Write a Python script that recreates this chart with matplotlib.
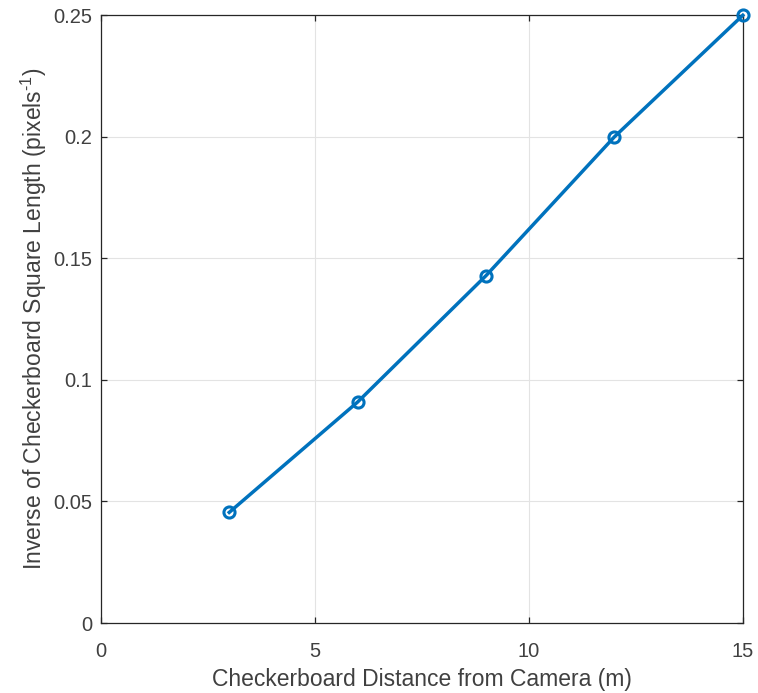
import matplotlib
matplotlib.use("Agg")
from matplotlib import pyplot as plt

# checkerboard distance (m) and inverse of square length (1/pixels)
distance = [3, 6, 9, 12, 15]
inv_length = [0.0455, 0.0909, 0.1429, 0.2000, 0.2500]

x_ticks = [0, 5, 10, 15]
y_ticks = [0, 0.05, 0.1, 0.15, 0.2, 0.25]
y_tick_labels = ["0", "0.05", "0.1", "0.15", "0.2", "0.25"]

plt.rcParams['font.family'] = ['Liberation Sans', 'DejaVu Sans']
plt.rcParams['mathtext.fontset'] = 'custom'
plt.rcParams['mathtext.rm'] = 'Liberation Sans'

fig = plt.figure(figsize=(7.58, 6.93), dpi=100)
ax = fig.add_axes([0.133, 0.101, 0.847, 0.877])

ax.plot(distance, inv_length, color='#0072BD', linewidth=2.5, marker='o',
        markersize=8, markerfacecolor='none', markeredgewidth=2.2, clip_on=False, zorder=3)

ax.set_xlim(0, 15)
ax.set_ylim(0, 0.25)
ax.set_xticks(x_ticks)
ax.set_yticks(y_ticks)
ax.set_yticklabels(y_tick_labels)
ax.grid(True, color='#e3e3e3', linewidth=0.8)
ax.set_axisbelow(True)

for side in ax.spines.values():
    side.set_color('#262626')
    side.set_linewidth(0.9)
ax.tick_params(axis='both', direction='in', length=4, width=0.9, colors='#262626',
               labelsize=14.5, top=True, right=True, labeltop=False, labelright=False)
ax.tick_params(axis='x', pad=14)
ax.tick_params(axis='y', pad=6)
for lbl in ax.get_xticklabels() + ax.get_yticklabels():
    lbl.set_color('#404040')

ax.set_xlabel('Checkerboard Distance from Camera (m)', fontsize=16.5, color='#404040', labelpad=5)
ax.set_ylabel('Inverse of Checkerboard Square Length (pixels$^{\\text{-1}}$)', fontsize=16.5,
              color='#404040', labelpad=3)

fig.savefig('out.png', dpi=100)
